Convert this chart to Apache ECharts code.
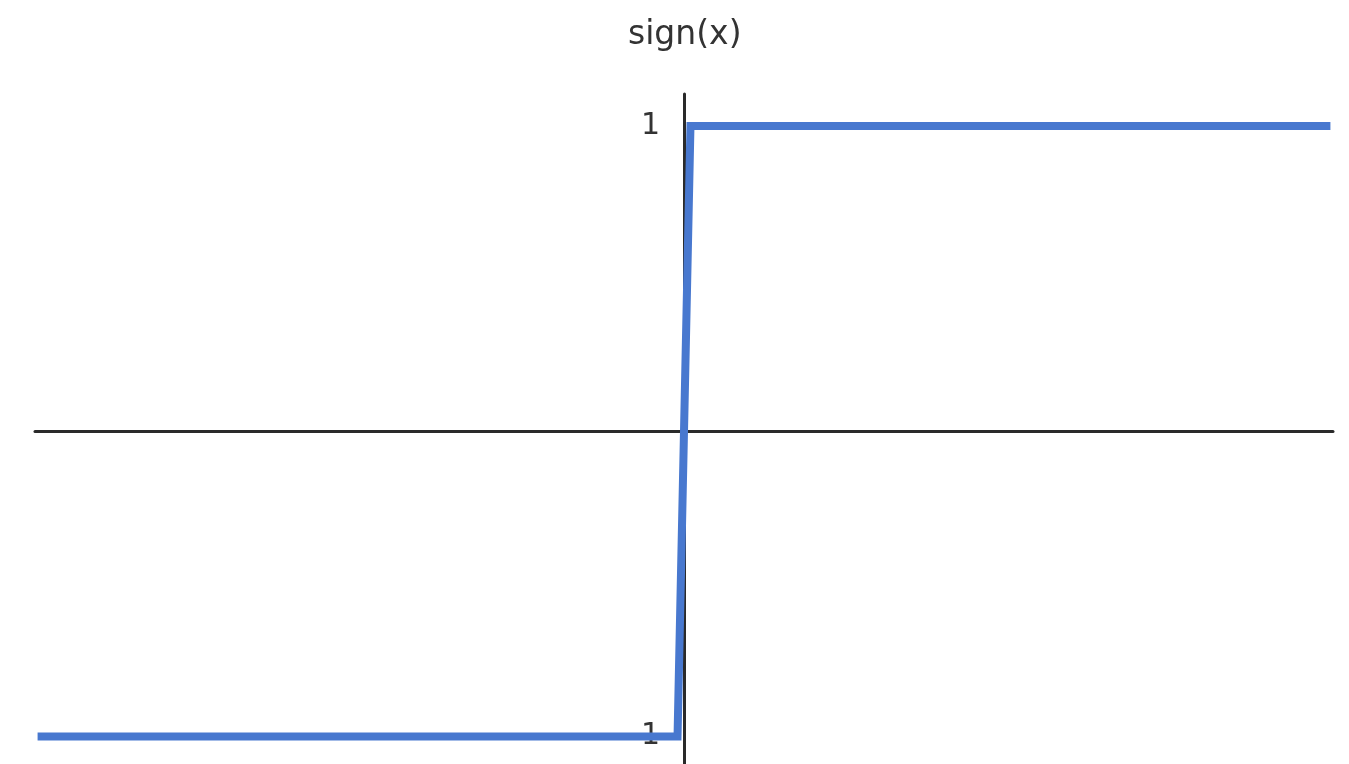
<!DOCTYPE html>
<html>
<head>
<meta charset="utf-8">
<script src="https://cdn.jsdelivr.net/npm/echarts@6/dist/echarts.min.js"></script>
<style>
  html, body { margin: 0; padding: 0; background: #fff; }
  #chart { width: 1349px; height: 764px; }
</style>
</head>
<body>
<div id="chart"></div>
<script>
// sign(x) sampled at the points where the curve bends
const xValues = [-5, -0.05, 0.05, 5];
const yValues = [-1, -1, 1, 1];
const yTickValues = [-1, 1];

const chart = echarts.init(document.getElementById('chart'));

// grid spans x 35..1333, the y axis sits at x = 0 (pixel 684)
const gridLeft = 35;
const yAxisShift = 684 - gridLeft;

const option = {
  backgroundColor: '#ffffff',
  animation: false,
  title: {
    text: 'sign(x)',
    left: 623,
    top: 14,
    textStyle: {
      fontFamily: 'DejaVu Sans',
      fontSize: 33,
      fontWeight: 'normal',
      color: '#333333'
    }
  },
  grid: {
    left: gridLeft,
    right: 16,
    top: 94,
    bottom: -3,
    outerBoundsMode: 'none',
    containLabel: false
  },
  xAxis: {
    type: 'value',
    min: -5.02,
    max: 5.02,
    axisLine: { onZero: true, lineStyle: { color: '#2a2a2a', width: 3 } },
    axisTick: { show: false },
    axisLabel: { show: false },
    splitLine: { show: false }
  },
  yAxis: {
    type: 'value',
    min: -1.1,
    max: 1.105,
    position: 'left',
    offset: -yAxisShift,
    axisLine: { show: true, onZero: false, lineStyle: { color: '#2a2a2a', width: 3 } },
    axisTick: { show: false },
    splitLine: { show: false },
    axisLabel: {
      customValues: yTickValues,
      margin: 24,
      fontFamily: 'DejaVu Sans',
      fontSize: 30,
      color: '#333333',
      formatter: (v) => (v < 0 ? '\u2212' + Math.abs(v) : String(v))
    }
  },
  series: [
    {
      type: 'line',
      data: xValues.map((x, i) => [x, yValues[i]]),
      showSymbol: false,
      symbol: 'none',
      z: 5,
      lineStyle: {
        color: '#4878CF',
        width: 8,
        cap: 'butt',
        join: 'miter'
      }
    }
  ]
};

chart.setOption(option);
</script>
</body>
</html>
